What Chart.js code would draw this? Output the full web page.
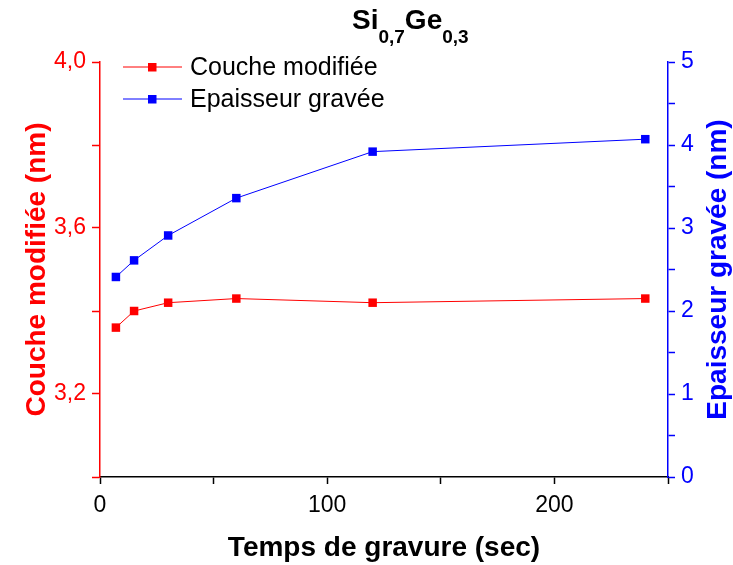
<!DOCTYPE html>
<html lang="fr">
<head>
    <meta charset="UTF-8">
    <title>Si0,7Ge0,3</title>
    <script src="https://cdn.jsdelivr.net/npm/chart.js"></script>
    <style>
        body { margin: 0; background: #fff; }
        #box { position: relative; width: 733px; height: 565px; }
    </style>
</head>
<body>
    <div id="box"><canvas id="graphe" width="733" height="565"></canvas></div>

    <script>
        // données
        const tempsSec = [7, 15, 30, 60, 120, 240];
        const coucheModifiee = [3.36, 3.40, 3.42, 3.43, 3.42, 3.43];
        const epaisseurGravee = [2.41, 2.61, 2.91, 3.36, 3.92, 4.07];

        const xMajor = [0, 100, 200];
        const yGaucheMajor = [3.2, 3.6, 4.0];
        const yDroiteMajor = [0, 1, 2, 3, 4, 5];

        // titre avec indices
        const titreParts = [['Si', false], ['0,7', true], ['Ge', false], ['0,3', true]];
        const titreDroite = 'Epaisseur gravée (nm)';

        const police = "'Liberation Sans', Arial, sans-serif";

        function estMajeur(v, liste) {
            return liste.some(m => Math.abs(m - v) < 1e-6);
        }
        function virgule(v, d) {
            return v.toFixed(d).replace('.', ',');
        }

        // titre dessiné sur le canvas (indices plus petits)
        const titrePlugin = {
            id: 'titre',
            afterDraw(chart) {
                const ctx = chart.ctx;
                ctx.save();
                ctx.fillStyle = '#000';
                ctx.textBaseline = 'alphabetic';
                ctx.textAlign = 'left';
                let x = 352;
                const y = 29;
                titreParts.forEach(([txt, sub]) => {
                    ctx.font = sub ? `bold 19px ${police}` : `bold 28px ${police}`;
                    ctx.fillText(txt, x, sub ? y + 14 : y);
                    x += ctx.measureText(txt).width;
                });

                // titre de l'axe de droite, lu de bas en haut comme à gauche
                const a = chart.chartArea;
                ctx.translate(718, (a.top + a.bottom) / 2);
                ctx.rotate(-Math.PI / 2);
                ctx.fillStyle = '#0000ff';
                ctx.font = `bold 28px ${police}`;
                ctx.textAlign = 'center';
                ctx.textBaseline = 'middle';
                ctx.fillText(titreDroite, 0, 0);
                ctx.restore();
            }
        };

        // légende placée dans le graphe, en haut à gauche
        const legendePlugin = {
            id: 'legende',
            afterDraw(chart) {
                const ctx = chart.ctx;
                ctx.save();
                chart.data.datasets.forEach((ds, i) => {
                    const y = 67 + i * 32;
                    const x0 = 123;
                    ctx.strokeStyle = ds.borderColor;
                    ctx.lineWidth = 1;
                    ctx.beginPath();
                    ctx.moveTo(x0, y);
                    ctx.lineTo(x0 + 59, y);
                    ctx.stroke();
                    ctx.fillStyle = ds.pointBackgroundColor;
                    ctx.fillRect(x0 + 29 - 4, y - 4, 8.5, 8.5);
                    ctx.fillStyle = '#000';
                    ctx.font = `25px ${police}`;
                    ctx.textBaseline = 'middle';
                    ctx.fillText(ds.label, x0 + 67, y + 1);
                });
                ctx.restore();
            }
        };

        const ctx = document.getElementById('graphe').getContext('2d');
        new Chart(ctx, {
            type: 'line',
            data: {
                datasets: [{
                    label: 'Couche modifiée',
                    data: tempsSec.map((t, i) => ({ x: t, y: coucheModifiee[i] })),
                    yAxisID: 'yG',
                    borderColor: '#ff0000',
                    backgroundColor: '#ff0000',
                    pointBackgroundColor: '#ff0000',
                    pointBorderWidth: 0,
                    pointStyle: 'rect',
                    pointRadius: 6,
                    borderWidth: 1,
                    tension: 0
                }, {
                    label: 'Epaisseur gravée',
                    data: tempsSec.map((t, i) => ({ x: t, y: epaisseurGravee[i] })),
                    yAxisID: 'yD',
                    borderColor: '#0000ff',
                    backgroundColor: '#0000ff',
                    pointBackgroundColor: '#0000ff',
                    pointBorderWidth: 0,
                    pointStyle: 'rect',
                    pointRadius: 6,
                    borderWidth: 1,
                    tension: 0
                }]
            },
            options: {
                responsive: false,
                animation: false,
                layout: { padding: { top: 62, left: 0, right: 0, bottom: 0 } },
                plugins: {
                    legend: { display: false },
                    tooltip: { enabled: false }
                },
                scales: {
                    x: {
                        type: 'linear',
                        min: 0,
                        max: 250,
                        afterFit: s => { s.height = 88; },
                        border: { color: '#000', width: 1.5 },
                        grid: { drawOnChartArea: false, tickLength: 7, tickColor: '#000', tickWidth: 1.5 },
                        ticks: {
                            stepSize: 50,
                            autoSkip: false,
                            maxRotation: 0,
                            padding: 8,
                            color: '#000',
                            font: { family: police, size: 23 },
                            callback: v => estMajeur(v, xMajor) ? String(v) : ''
                        },
                        title: {
                            display: true,
                            text: 'Temps de gravure (sec)',
                            color: '#000',
                            font: { family: police, size: 28, weight: 'bold' },
                            padding: { top: 0, bottom: 0 }
                        }
                    },
                    yG: {
                        type: 'linear',
                        position: 'left',
                        min: 3.0,
                        max: 4.0,
                        afterFit: s => { s.width = 100; },
                        border: { color: '#ff0000', width: 1.5 },
                        grid: { drawOnChartArea: false, tickLength: 8, tickColor: '#ff0000', tickWidth: 1.5 },
                        ticks: {
                            stepSize: 0.2,
                            autoSkip: false,
                            padding: 6,
                            color: '#ff0000',
                            font: { family: police, size: 23 },
                            callback: v => estMajeur(v, yGaucheMajor) ? virgule(v, 1) : ''
                        },
                        title: {
                            display: true,
                            text: 'Couche modifiée (nm)',
                            color: '#ff0000',
                            font: { family: police, size: 28, weight: 'bold' },
                            padding: { top: 20, bottom: 0 }
                        }
                    },
                    yD: {
                        type: 'linear',
                        position: 'right',
                        min: 0,
                        max: 5,
                        afterFit: s => { s.width = 65; },
                        border: { color: '#0000ff', width: 1.5 },
                        grid: { drawOnChartArea: false, tickLength: 7, tickColor: '#0000ff', tickWidth: 1.5 },
                        ticks: {
                            stepSize: 0.5,
                            autoSkip: false,
                            padding: 6,
                            color: '#0000ff',
                            font: { family: police, size: 23 },
                            callback: v => estMajeur(v, yDroiteMajor) ? String(v) : ''
                        },
                        title: { display: false }
                    }
                }
            },
            plugins: [titrePlugin, legendePlugin]
        });
    </script>
</body>
</html>
